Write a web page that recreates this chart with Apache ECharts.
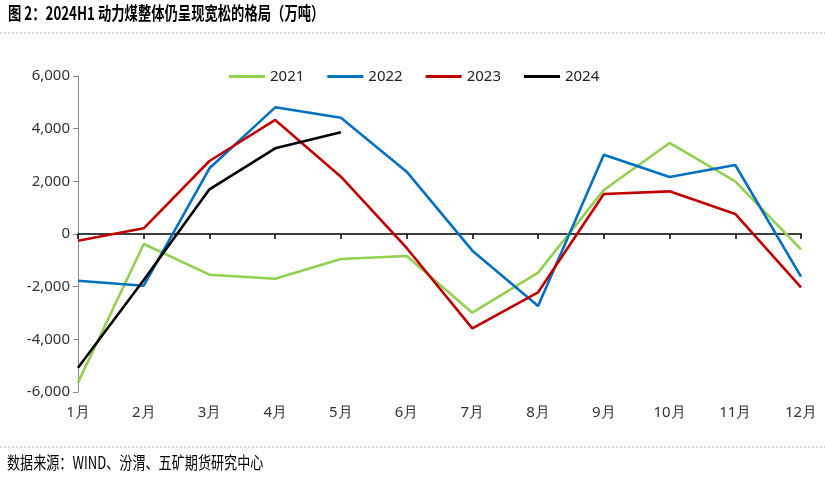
<!DOCTYPE html>
<html><head><meta charset="utf-8">
<script src="https://cdn.jsdelivr.net/npm/echarts@6/dist/echarts.min.js"></script>
<style>html,body{margin:0;padding:0;background:#fff}#c{width:825px;height:479px}</style>
</head><body><div id="c"></div>
<script>
const months = ['1月','2月','3月','4月','5月','6月','7月','8月','9月','10月','11月','12月'];
const s2021 = [-5646,-380,-1545,-1697,-949,-835,-2988,-1469,1671,3456,2000,-582];
const s2022 = [-1773,-1963,2495,4810,4418,2367,-633,-2734,3013,2165,2620,-1620];
const s2023 = [-253,215,2772,4330,2177,-530,-3582,-2215,1519,1620,760,-2025];
const s2024 = [-5077,-1747,1696,3253,3861];
const yTicks = {min:-6000,max:6000,interval:2000};
const titleText = '图 2：2024H1 动力煤整体仍呈现宽松的格局（万吨）';
const sourceText = '数据来源：WIND、汾渭、五矿期货研究中心';

const chart = echarts.init(document.getElementById('c'));
const mk = (name, data, color) => ({name, type:'line', data, symbol:'none', smooth:false,
  lineStyle:{width:2.6,color}, itemStyle:{color}, xAxisIndex:0});
chart.setOption({
  animation:false,
  textStyle:{fontFamily:'Noto Sans'},
  graphic:[
    {type:'text', x:8, y:4, scaleX:0.74, style:{text:titleText, font:'bold 18px "Noto Sans CJK SC"', fill:'#000'}},
    {type:'line', shape:{x1:0,y1:33,x2:825,y2:33}, style:{stroke:'#b0b0b0', lineWidth:1, lineDash:[2,2]}},
    {type:'line', shape:{x1:0,y1:447,x2:825,y2:447}, style:{stroke:'#b0b0b0', lineWidth:1, lineDash:[2,2]}},
    {type:'text', x:7, y:454, scaleX:0.77, style:{text:sourceText, font:'17px "Noto Sans CJK SC"', fill:'#000'}}
  ],
  legend:{top:64, left:224, icon:'rect', itemWidth:36, itemHeight:3, itemGap:23,
    textStyle:{fontSize:15, color:'#222', fontFamily:'Noto Sans'},
    data:['2021','2022','2023','2024']},
  grid:{left:78, right:24, top:76, bottom:87},
  xAxis:[
    {type:'category', data:months, boundaryGap:false,
     axisLine:{onZero:true, lineStyle:{color:'#000', width:1.5}},
     axisTick:{show:true, inside:false, length:5, lineStyle:{color:'#000', width:1.5}},
     axisLabel:{show:false}, splitLine:{show:false}},
    {type:'category', data:months, boundaryGap:false, position:'bottom',
     axisLine:{show:false}, axisTick:{show:false},
     axisLabel:{show:true, fontSize:15, color:'#333', margin:13, fontFamily:'Noto Sans'}}
  ],
  yAxis:{type:'value', min:yTicks.min, max:yTicks.max, interval:yTicks.interval,
    axisLine:{show:true, onZero:false, lineStyle:{color:'#888'}},
    axisTick:{show:true, length:5, lineStyle:{color:'#888'}},
    splitLine:{show:false},
    axisLabel:{fontSize:15, color:'#333', margin:8, fontFamily:'Noto Sans',
      formatter:v=>v.toLocaleString('en-US')}},
  series:[
    mk('2021', s2021, '#92D050'),
    mk('2022', s2022, '#0070C0'),
    mk('2023', s2023, '#C00000'),
    mk('2024', s2024, '#000000')
  ]
});
</script></body></html>
